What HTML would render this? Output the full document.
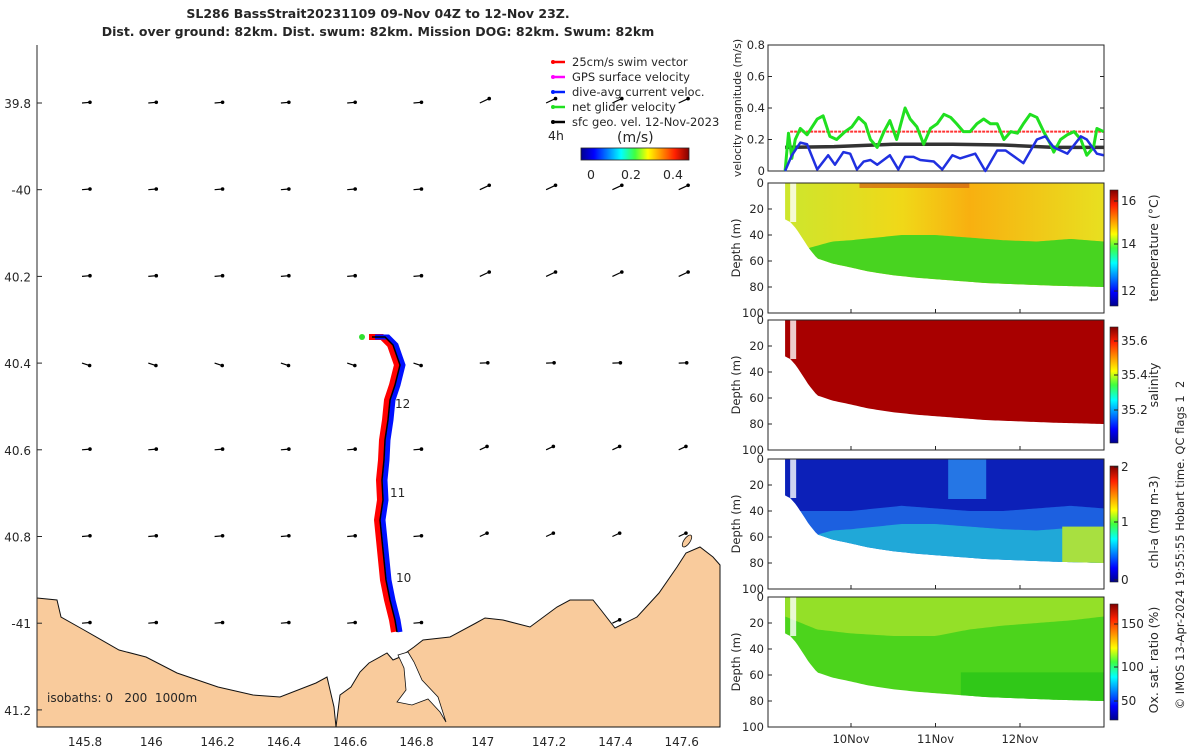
<!DOCTYPE html>
<html><head><meta charset="utf-8"><style>
body{margin:0;background:#fff;font-family:"Liberation Sans",sans-serif}
svg text{font-family:"DejaVu Sans","Liberation Sans",sans-serif;fill:#262626;white-space:pre}
</style></head><body>
<svg id="s" width="1200" height="750" viewBox="0 0 1200 750" xmlns="http://www.w3.org/2000/svg">
<defs>
<linearGradient id="jetH" x1="0" x2="1" y1="0" y2="0">
<stop offset="0" stop-color="#00008f"/><stop offset="0.12" stop-color="#0000ff"/><stop offset="0.37" stop-color="#00ffff"/><stop offset="0.5" stop-color="#40ff40"/><stop offset="0.62" stop-color="#ffff00"/><stop offset="0.87" stop-color="#ff2000"/><stop offset="1" stop-color="#800000"/></linearGradient>
<linearGradient id="jetV" x1="0" x2="0" y1="1" y2="0">
<stop offset="0" stop-color="#00008f"/><stop offset="0.12" stop-color="#0000ff"/><stop offset="0.37" stop-color="#00ffff"/><stop offset="0.5" stop-color="#40ff40"/><stop offset="0.62" stop-color="#ffff00"/><stop offset="0.87" stop-color="#ff2000"/><stop offset="1" stop-color="#800000"/></linearGradient>
<linearGradient id="tempTop" x1="0" x2="1"><stop offset="0" stop-color="#c8e830"/><stop offset="0.4" stop-color="#f0d818"/><stop offset="0.6" stop-color="#f8b010"/><stop offset="1" stop-color="#e8e020"/></linearGradient>
</defs>
<g id="map"></g>
<g id="vel"></g>
<g id="sec"></g>
</svg>
<script>
// ---- velocity data (t in days since 09-Nov 00:00) ----
const greenT=[0.22,0.26,0.30,0.34,0.40,0.48,0.60,0.67,0.75,0.83,0.93,1.01,1.09,1.17,1.23,1.31,1.39,1.46,1.54,1.64,1.70,1.78,1.86,1.94,2.02,2.10,2.18,2.25,2.33,2.41,2.49,2.57,2.65,2.73,2.81,2.89,2.97,3.04,3.12,3.20,3.28,3.36,3.40,3.48,3.56,3.64,3.72,3.79,3.87,3.91,3.99];
const greenV=[0.0,0.24,0.08,0.2,0.27,0.23,0.33,0.35,0.22,0.2,0.25,0.28,0.34,0.3,0.2,0.15,0.25,0.32,0.2,0.4,0.33,0.28,0.17,0.27,0.3,0.36,0.34,0.3,0.25,0.25,0.3,0.33,0.3,0.3,0.2,0.25,0.24,0.3,0.36,0.34,0.25,0.17,0.12,0.2,0.23,0.25,0.2,0.1,0.15,0.27,0.25];
const blueT=[0.22,0.30,0.40,0.48,0.60,0.73,0.81,0.91,0.99,1.07,1.15,1.23,1.31,1.46,1.56,1.64,1.74,1.82,1.98,2.08,2.20,2.29,2.47,2.59,2.73,2.83,3.04,3.20,3.30,3.40,3.56,3.72,3.79,3.91,3.99];
const blueV=[0.0,0.1,0.18,0.17,0.01,0.1,0.04,0.12,0.11,0.01,0.06,0.07,0.04,0.1,0.01,0.09,0.09,0.07,0.06,0.01,0.1,0.08,0.11,0.0,0.13,0.13,0.05,0.2,0.22,0.15,0.11,0.22,0.2,0.11,0.1];
const blackT=[0.22,0.8,1.5,2.2,2.8,3.4,3.99];
const blackV=[0.15,0.155,0.17,0.17,0.165,0.15,0.15];
const swimV=0.25;
// ---- section data ----
const profT=[0.22,0.28,0.35,0.5,0.6,0.78,1.0,1.2,1.5,1.8,2.2,2.6,3.0,3.4,3.99];
const profD=[28,30,35,50,58,62,65,68,71,73,75,77,78,79,80];
const thermoT=[0.22,0.5,0.78,1.0,1.3,1.6,2.0,2.4,2.8,3.2,3.6,3.99];
const thermoD=[60,50,45,44,42,40,40,42,44,45,43,45];
const chlMidD=[40,40,40,40,38,36,38,40,40,38,36,38];
const oxyT=[0.22,0.6,1.0,1.5,2.0,2.4,2.8,3.2,3.6,3.99];
const oxyD=[15,25,28,30,30,25,22,20,18,15];
// ---- map grid ----
const lonTicks=[145.8,146,146.2,146.4,146.6,146.8,147,147.2,147.4,147.6];
const latTicks=[39.8,40,40.2,40.4,40.6,40.8,41,41.2];
const latLabels=["39.8","-40","40.2","40.4","40.6","40.8","-41","41.2"];

const NS="http://www.w3.org/2000/svg";
function mk(tag,attrs,parent,txt){const e=document.createElementNS(NS,tag);for(const k in attrs)e.setAttribute(k,attrs[k]);if(txt!==undefined)e.textContent=txt;parent.appendChild(e);return e;}
const map=document.getElementById('map'),vel=document.getElementById('vel'),sec=document.getElementById('sec');
const lonX=l=>85+(l-145.8)/0.2*66.3;
const latY=l=>103+(l-39.8)/0.2*86.7;
const tX=t=>851+(t-1)*84.5;

// ===== MAP =====
let e;
e=mk('text',{x:378,y:18,'text-anchor':'middle','font-size':12.5,'font-weight':'bold'},map,'SL286 BassStrait20231109 09-Nov 04Z to 12-Nov 23Z.');

e=mk('text',{x:378,y:36,'text-anchor':'middle','font-size':12.5,'font-weight':'bold'},map,'Dist. over ground: 82km. Dist. swum: 82km. Mission DOG: 82km. Swum: 82km');

// land
const coast=[[37,598],[57,600],[61,617],[84,630],[119,650],[146,657],[177,673],[218,687],[253,695],[280,697],[316,683],[327,677],[334,707],[336,727],[340,695],[351,687],[360,672],[369,663],[387,653],[393,660],[400,657],[414,647],[423,640],[450,637],[476,623],[485,618],[503,620],[530,627],[557,607],[570,600],[593,600],[601,610],[615,628],[637,617],[659,593],[677,567],[686,553],[700,547],[713,557],[720,565],[720,727],[37,727]];
e=mk('polygon',{points:coast.map(p=>p.join(',')).join(' '),fill:'#f9cb9c',stroke:'#111','stroke-width':1},map);

e=mk('polygon',{points:'398,655 404,668 406,690 397,702 412,705 428,699 440,712 446,722 438,697 422,680 414,662 408,652',fill:'#fff',stroke:'#111','stroke-width':0.8},map);

e=mk('ellipse',{cx:687,cy:541,rx:3,ry:7,fill:'#f9cb9c',stroke:'#111','stroke-width':0.8,transform:'rotate(35 687 541)'},map);

// axes
mk('line',{x1:37,y1:45,x2:37,y2:727,stroke:'#262626'},map);
latTicks.forEach((l,i)=>{const y=latY(l);mk('line',{x1:37,y1:y,x2:42,y2:y,stroke:'#262626'},map);
 e=mk('text',{x:31,y:y+5,'text-anchor':'end','font-size':12},map,latLabels[i]);});
lonTicks.forEach(l=>{const x=lonX(l);e=mk('text',{x:x,y:746,'text-anchor':'middle','font-size':12},map,String(l));});
// vectors
const coastYAt=x=>{for(let i=0;i<coast.length-3;i++){const a=coast[i],b=coast[i+1];if(x>=a[0]&&x<=b[0])return a[1]+(b[1]-a[1])*(x-a[0])/(b[0]-a[0]||1);}return 600;};
latTicks.forEach((la,ri)=>{lonTicks.forEach((lo,ci)=>{const x=lonX(lo),y=latY(la);if(y>coastYAt(x)-3||y>700)return;
 const big=(ci>=6&&ri<=2)?1.3:1;const ang=-(ci>=6?25:5)*Math.PI/180-(ri===3?-0.4:0);const L=8*big;
 const x1=x-3,y1=y,x2=x1+L*Math.cos(ang),y2=y1+L*Math.sin(ang);
 e=mk('line',{x1:x1,y1:y1,x2:x2,y2:y2,stroke:'#000','stroke-width':1.2},map);
 mk('circle',{cx:x2,cy:y2,r:1.8,fill:'#000'},map);});});
// track
const trk=[[372,337],[385,337],[393,345],[400,365],[395,385],[390,400],[388,420],[385,440],[384,460],[382,480],[383,500],[380,520],[382,540],[384,560],[386,580],[390,600],[395,620],[397,632]];
e=mk('polyline',{points:trk.map(p=>(p[0]-3)+','+p[1]).join(' '),fill:'none',stroke:'#f00','stroke-width':6},map);
e=mk('polyline',{points:trk.map(p=>(p[0]+3)+','+p[1]).join(' '),fill:'none',stroke:'#0010ff','stroke-width':5},map);
e=mk('polyline',{points:trk.map(p=>p.join(',')).join(' '),fill:'none',stroke:'#000','stroke-width':1.5},map);
mk('circle',{cx:362,cy:337,r:3,fill:'#30e030'},map);
[['12',395,408],['11',390,497],['10',396,582]].forEach(d=>{e=mk('text',{x:d[1],y:d[2],'font-size':12},map,d[0]);});
e=mk('text',{x:47,y:702,'font-size':12},map,'isobaths: 0   200  1000m');
// legend
const leg=[['#f00','25cm/s swim vector'],['#f0f','GPS surface velocity'],['#0020ff','dive-avg current veloc.'],['#20e020','net glider velocity'],['#000','sfc geo. vel. 12-Nov-2023']];
leg.forEach((d,i)=>{const y=62+i*15;mk('line',{x1:553,y1:y,x2:565,y2:y,stroke:d[0],'stroke-width':2.5},map);mk('circle',{cx:553,cy:y,r:2,fill:d[0]},map);
 e=mk('text',{x:572,y:y+4,'font-size':11.5},map,d[1]);});
mk('text',{x:548,y:140,'font-size':12.5},map,'4h');
mk('text',{x:617,y:142,'font-size':14},map,'(m/s)');
e=mk('rect',{x:581,y:148,width:108,height:12,fill:'url(#jetH)',stroke:'#222','stroke-width':0.8},map);
[['0',591],['0.2',631],['0.4',673]].forEach(d=>mk('text',{x:d[1],y:179,'text-anchor':'middle','font-size':12.5},map,d[0]));

// ===== VELOCITY PANEL =====
const vL=768,vR=1104,vT=45,vB=171;const vY=v=>vB-v/0.8*(vB-vT);
e=mk('rect',{x:vL,y:vT,width:vR-vL,height:vB-vT,fill:'#fff',stroke:'#262626'},vel);
[0,0.2,0.4,0.6,0.8].forEach(v=>{const y=vY(v);mk('line',{x1:vL,y1:y,x2:vL+4,y2:y,stroke:'#262626'},vel);mk('line',{x1:vR,y1:y,x2:vR-4,y2:y,stroke:'#262626'},vel);
 e=mk('text',{x:vL-3,y:y+4,'text-anchor':'end','font-size':11.5},vel,String(v));});
e=mk('text',{transform:'translate(741,108) rotate(-90)','text-anchor':'middle','font-size':11},vel,'velocity magnitude (m/s)');
e=mk('line',{x1:tX(0.28),y1:vY(swimV),x2:tX(3.99),y2:vY(swimV),stroke:'#f33','stroke-width':2,'stroke-dasharray':'3,1'},vel);
const pl=(T,V,c,w,n)=>{const el=mk('polyline',{points:T.map((t,i)=>tX(t)+','+vY(V[i])).join(' '),fill:'none',stroke:c,'stroke-width':w,'stroke-linejoin':'round'},vel);};
pl(blackT,blackV,'#333',3.5,'sfc-geo-velocity-line');
pl(greenT,greenV,'#20e020',3,'net-glider-velocity-line');
pl(blueT,blueV,'#2030e0',2.5,'dive-avg-current-line');

// ===== SECTIONS =====
const panels=[{top:183,name:'temperature'},{top:320,name:'salinity'},{top:459,name:'chl-a'},{top:597,name:'oxygen'}];
const interp=(T,D,t)=>{for(let i=0;i<T.length-1;i++)if(t>=T[i]&&t<=T[i+1])return D[i]+(D[i+1]-D[i])*(t-T[i])/(T[i+1]-T[i]);return D[D.length-1];};
const ts=[];for(let t=0.22;t<=3.99;t+=0.03)ts.push(t);ts.push(3.99);
panels.forEach((p,pi)=>{
 const dY=d=>p.top+d*1.3,bot=p.top+130;
 const g=mk('g',{},sec);
 const clip=mk('clipPath',{id:'c'+pi},g);
 mk('polygon',{points:[[tX(0.22),dY(0)],...ts.map(t=>[tX(t),dY(interp(profT,profD,t))]),[tX(3.99),dY(0)]].map(q=>q.join(',')).join(' ')},clip);
 const cg=mk('g',{'clip-path':'url(#c'+pi+')'},g);
 const layer=(T,D,fill,top)=>mk('polygon',{points:[...ts.map(t=>[tX(t),dY(top?0:interp(T,D,t))]),...ts.slice().reverse().map(t=>[tX(t),top?dY(interp(T,D,t)):bot])].map(q=>q.join(',')).join(' '),fill:fill},cg);
 if(pi===0){mk('rect',{x:vL,y:p.top,width:vR-vL,height:130,fill:'url(#tempTop)'},cg);layer(thermoT,thermoD,'#48d420',false);mk('rect',{x:tX(1.1),y:dY(0),width:tX(2.4)-tX(1.1),height:5,fill:'#d06010',opacity:0.7},cg);}
 if(pi===1){mk('rect',{x:vL,y:p.top,width:vR-vL,height:130,fill:'#a80000'},cg);}
 if(pi===2){mk('rect',{x:vL,y:p.top,width:vR-vL,height:130,fill:'#1c60e0'},cg);layer(thermoT,chlMidD,'#0c20b8',true);
   mk('rect',{x:tX(2.15),y:dY(0),width:tX(2.6)-tX(2.15),height:40,fill:'#2c8cf0',opacity:0.8},cg);
   layer(thermoT,thermoD.map(d=>d+10),'#20a8d8',false);mk('rect',{x:tX(3.5),y:dY(52),width:tX(3.99)-tX(3.5),height:45,fill:'#a8e040'},cg);}
 if(pi===3){mk('rect',{x:vL,y:p.top,width:vR-vL,height:130,fill:'#4cd41c'},cg);layer(oxyT,oxyD,'#94e028',true);mk('rect',{x:tX(2.3),y:dY(58),width:tX(3.99)-tX(2.3),height:60,fill:'#30c818'},cg);}
 mk('rect',{x:tX(0.28),y:p.top,width:6,height:dY(30)-p.top,fill:'#fff',opacity:0.8},g);
 mk('rect',{x:vL,y:p.top,width:vR-vL,height:130,fill:'none',stroke:'#262626'},g);
 [0,20,40,60,80,100].forEach(d=>{const y=dY(d);mk('line',{x1:vL,y1:y,x2:vL+4,y2:y,stroke:'#262626'},g);
  const tl=mk('text',{x:vL-4,y:y+4,'text-anchor':'end','font-size':11.5},g,String(d));});
 const yt=mk('text',{transform:'translate(740,'+(p.top+65)+') rotate(-90)','text-anchor':'middle','font-size':11.5},g,'Depth (m)');
 [1,2,3].forEach(t=>{mk('line',{x1:tX(t),y1:bot,x2:tX(t),y2:bot-4,stroke:'#262626'},g);});
 const cb=mk('rect',{x:1110,y:p.top+7,width:8,height:116,fill:'url(#jetV)',stroke:'#222','stroke-width':0.6},g);
});
const cbTicks=[[['16',201],['14',244],['12',291]],[['35.6',341],['35.4',375],['35.2',410]],[['2',467],['1',522],['0',580]],[['150',624],['100',667],['50',701]]];
cbTicks.forEach(a=>a.forEach(d=>{mk('line',{x1:1118,y1:d[1],x2:1114,y2:d[1],stroke:'#222'},sec);e=mk('text',{x:1121,y:d[1]+4,'font-size':12},sec,d[0]);}));
[['temperature (°C)',1158,248],['salinity',1158,385],['chl-a (mg m-3)',1158,522],['Ox. sat. ratio (%)',1158,660]].forEach(d=>{e=mk('text',{transform:'translate('+d[1]+','+d[2]+') rotate(-90)','text-anchor':'middle','font-size':12.5},sec,d[0]);});
e=mk('text',{transform:'translate(1184,545) rotate(-90)','text-anchor':'middle','font-size':11.5},sec,'© IMOS 13-Apr-2024 19:55:55 Hobart time. QC flags 1  2');
[['10Nov',1],['11Nov',2],['12Nov',3]].forEach(d=>{e=mk('text',{x:tX(d[1]),y:743,'text-anchor':'middle','font-size':11.5},sec,d[0]);});
</script>
</body></html>
